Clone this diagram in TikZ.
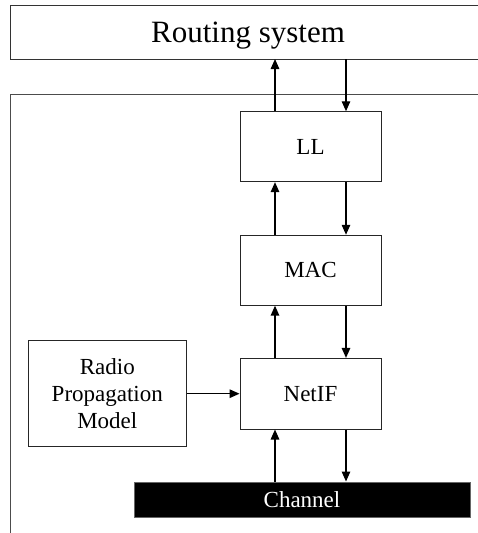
\documentclass[tikz,border=0pt]{standalone}
\usepackage{fontspec}
\setmainfont{Liberation Serif}
\usetikzlibrary{arrows.meta}
\begin{document}
\begin{tikzpicture}[x=1pt,y=-1pt,
  box/.style={draw=black!85, line width=0.9pt, fill=white, inner sep=0pt, font=\fontsize{23}{27}\selectfont},
  arr/.style={draw=black, line width=1.4pt, -{Triangle[length=10pt,width=8.5pt]}}]
\useasboundingbox (0,0) rectangle (478,533);
% outer container (extends beyond picture)
\draw[black!70, line width=1pt] (10.7,533) -- (10.7,94) -- (478,94);
% routing system box (clipped at the right)
\draw[black!80, line width=1pt] (478,5) -- (10.7,5) -- (10.7,59) -- (478,59);
\node[font=\fontsize{31}{36}\selectfont, anchor=base] (rs) at (248,42) {Routing system};
\coordinate (rsb1) at (275,59);
\coordinate (rsb2) at (346,59);
% layers
\node[box, minimum width=141pt, minimum height=70pt] (ll) at (310.5,146.7) {LL};
\node[box, minimum width=141pt, minimum height=70pt] (mac) at (310.5,270.2) {MAC};
\node[box, minimum width=141pt, minimum height=70.7pt] (net) at (310.5,393.7) {NetIF};
\node[box, minimum width=158.7pt, minimum height=105.3pt, align=center] (rad) at (107.3,393.3) {Radio\\Propagation\\Model};
\node[draw=black!60, fill=black, text=white, inner sep=0pt, minimum width=336pt, minimum height=35.6pt, font=\fontsize{23}{27}\selectfont] (ch) at (302,499.5) {Channel};
% connectors
\draw[arr] (ll.north -| rsb1) -- (rsb1);
\draw[arr] (rsb2) -- (ll.north -| rsb2);
\draw[arr] (mac.north -| rsb1) -- (ll.south -| rsb1);
\draw[arr] (ll.south -| rsb2) -- (mac.north -| rsb2);
\draw[arr] (net.north -| rsb1) -- (mac.south -| rsb1);
\draw[arr] (mac.south -| rsb2) -- (net.north -| rsb2);
\draw[arr] (ch.north -| rsb1) -- (net.south -| rsb1);
\draw[arr] (net.south -| rsb2) -- (ch.north -| rsb2);
\draw[arr] (rad.east |- net.center) -- (net.west);
\end{tikzpicture}
\end{document}
